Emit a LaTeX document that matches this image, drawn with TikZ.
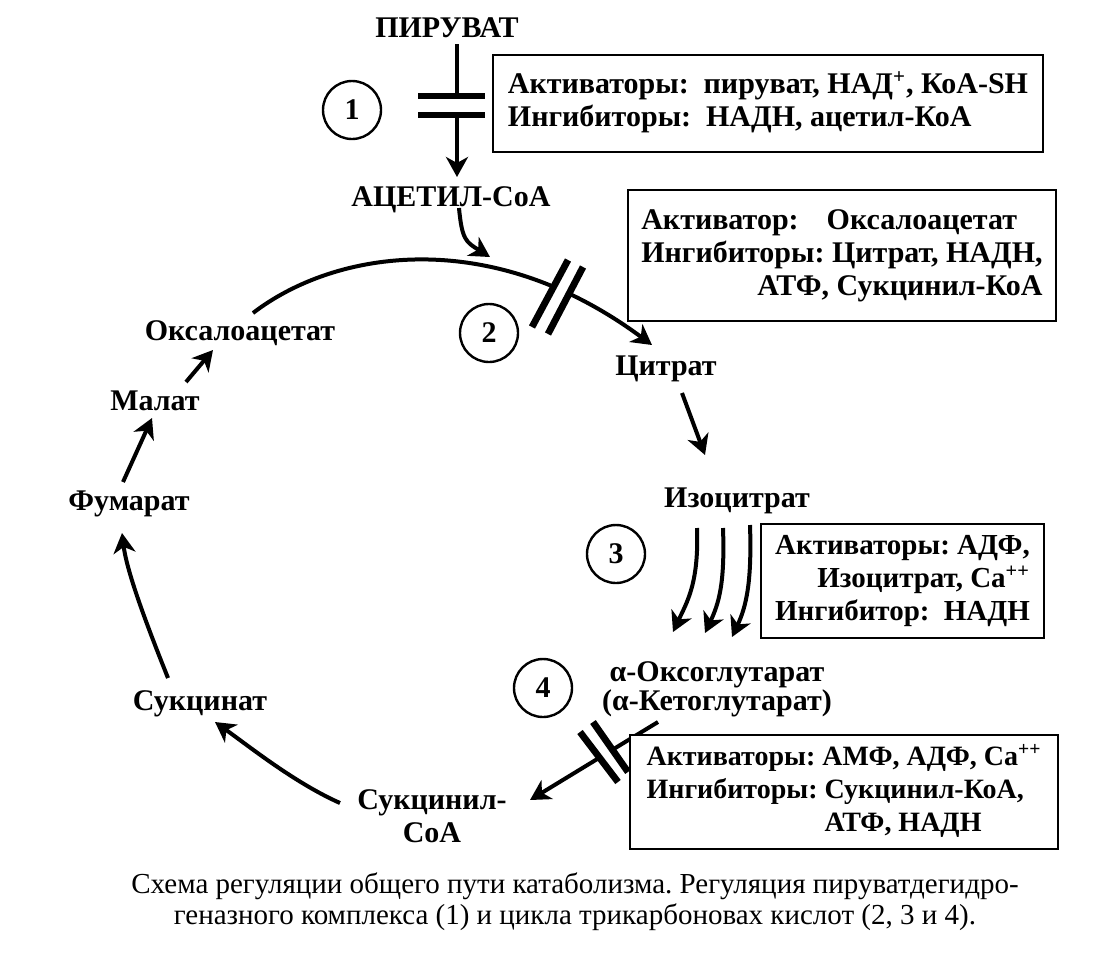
\documentclass[tikz,border=0pt]{standalone}
\usepackage{fontspec}
\setmainfont{Liberation Serif}
\usetikzlibrary{arrows.meta,calc}

\begin{document}
\frenchspacing
\begin{tikzpicture}[x=0.5pt,y=-0.5pt,
        metab/.style={font=\fontsize{15}{15}\selectfont\bfseries, inner sep=0pt, text height=10pt, text depth=0pt},
        reac/.style={line width=2pt, -{Stealth[length=10pt,width=11pt,inset=3pt]}},
        gatebar/.style={line width=3.4pt},
        num/.style={circle, draw, line width=1.2pt, minimum size=29pt, inner sep=0pt, font=\fontsize{15}{15}\selectfont\bfseries},
        infobox/.style={draw, line width=1pt, fill=white, anchor=north west, inner sep=0pt, font=\fontsize{15}{16.5}\selectfont\bfseries}]
    \useasboundingbox (0,0) rectangle (1099,955);

    % metabolites
    \node[metab] (piruvat) at (447,27) {ПИРУВАТ};
    \node[metab] (acetyl) at (451,196) {АЦЕТИЛ-CoA};
    \node[metab] (citrat) at (666,365) {Цитрат};
    \node[metab] (isocitrat) at (737,497) {Изоцитрат};
    \node[metab, align=center, font=\fontsize{15}{14.5}\selectfont\bfseries, text height=24.5pt] (oxoglut) at (717,686) {α-Оксоглутарат\\(α-Кетоглутарат)};
    \node[metab, align=center, font=\fontsize{15}{16.5}\selectfont\bfseries, text height=26.5pt] (sukcoa) at (432,816) {Сукцинил-\\CoA};
    \node[metab] (sukcinat) at (200,700) {Сукцинат};
    \node[metab] (fumarat) at (129,500) {Фумарат};
    \node[metab] (malat) at (155,400) {Малат};
    \node[metab] (oxaloacetat) at (240,330) {Оксалоацетат};

    % enzyme numbers
    \node[num] (n1) at (352,110) {1};
    \node[num] (n2) at (489,333) {2};
    \node[num] (n3) at (616,554) {3};
    \node[num] (n4) at (543,688) {4};

    % reactions
    \draw[reac] ($(piruvat)+(10,17)$) -- ($(acetyl)+(6,-19)$);
    \draw[reac] ($(oxaloacetat)+(13,-17)$) .. controls +(82,-63) and +(-162,-120) .. ($(citrat)+(-14,-20)$);
    \coordinate (join) at (490,257);
    \draw[reac] ($(acetyl)+(8,12)$) .. controls +(3,32) and +(-24,-15) .. (join);
    \draw[reac] ($(citrat)+(16,28)$) -- ($(isocitrat)+(-32,-42)$);
    \draw[reac] ($(isocitrat)+(-40,31)$) .. controls +(2,55) and +(14,-30) .. ($(oxoglut)+(-44,-54)$);
    \draw[reac] ($(isocitrat)+(-14,31)$) .. controls +(2,55) and +(14,-30) .. ($(oxoglut)+(-12,-53)$);
    \draw[reac] ($(isocitrat)+(13,28)$) .. controls +(2,58) and +(14,-30) .. ($(oxoglut)+(15,-49)$);
    \draw[reac] ($(oxoglut)+(-59,36)$) -- ($(sukcoa)+(98,-16)$);
    \draw[reac] ($(sukcoa)+(-92,-13)$) .. controls +(-45,-20) and +(35,25) .. ($(sukcinat)+(15,22)$);
    \draw[reac] ($(sukcinat)+(-32,-22)$) .. controls +(-20,-50) and +(5,40) .. ($(fumarat)+(-7,33)$);
    \draw[reac] ($(fumarat)+(-6,-18)$) -- ($(malat)+(-3,18)$);
    \draw[reac] ($(malat)+(31,-18)$) -- ($(oxaloacetat)+(-27,20)$);

    % blocked steps
    \fill[white] (418,96) rectangle (485,115);
    \draw[gatebar] (418,96) -- (485,96);
    \draw[gatebar] (418,115) -- (485,115);
    \fill[white] (568,260) -- (532,327) -- (548,334) -- (583,267) -- cycle;
    \draw[gatebar] (568,260) -- (532,327);
    \draw[gatebar] (583,267) -- (548,334);
    \fill[white] (580,732) -- (618,782) -- (628,772) -- (593,722) -- cycle;
    \draw[gatebar] (580,732) -- (618,782);
    \draw[gatebar] (593,722) -- (628,772);

    % regulators
    \node[infobox, minimum width=275pt, minimum height=48.5pt] (box1) at (492,54) {\begin{tabular}{@{}l@{}}
        Активаторы:\ \ пируват, НАД\textsuperscript{+}, КоА-SH\\
        Ингибиторы:\ \ НАДН, ацетил-КоА
    \end{tabular}};
    \node[infobox, minimum width=214pt, minimum height=65.5pt] (box2) at (627,189) {\begin{tabular}{@{}l@{}}
        Активатор:\hspace{14pt}Оксалоацетат\\
        Ингибиторы: Цитрат, НАДН,\\
        \hfill АТФ, Сукцинил-КоА
    \end{tabular}};
    \node[infobox, minimum width=141.5pt, minimum height=57pt, font=\fontsize{14.5}{16.5}\selectfont\bfseries] (box3) at (760,523) {\begin{tabular}{@{}l@{}}
        Активаторы: АДФ,\\
        \hfill Изоцитрат, Ca\textsuperscript{++}\\
        Ингибитор:\hfill НАДН
    \end{tabular}};
    \node[infobox, minimum width=214pt, minimum height=57pt, font=\fontsize{14}{16.5}\selectfont\bfseries] (box4) at (629,734) {\begin{tabular}{@{}l@{}}
        Активаторы: АМФ, АДФ, Ca\textsuperscript{++}\\
        Ингибиторы: Сукцинил-КоА,\\
        \phantom{Ингибиторы: }АТФ, НАДН
    \end{tabular}};

    \node[font=\fontsize{14.5}{15.5}\selectfont, align=center] (caption) at (575,902) {Схема регуляции общего пути катаболизма. Регуляция пируватдегидро-\\геназного комплекса (1) и цикла трикарбоновах кислот (2, 3 и 4).};
\end{tikzpicture}
\end{document}
